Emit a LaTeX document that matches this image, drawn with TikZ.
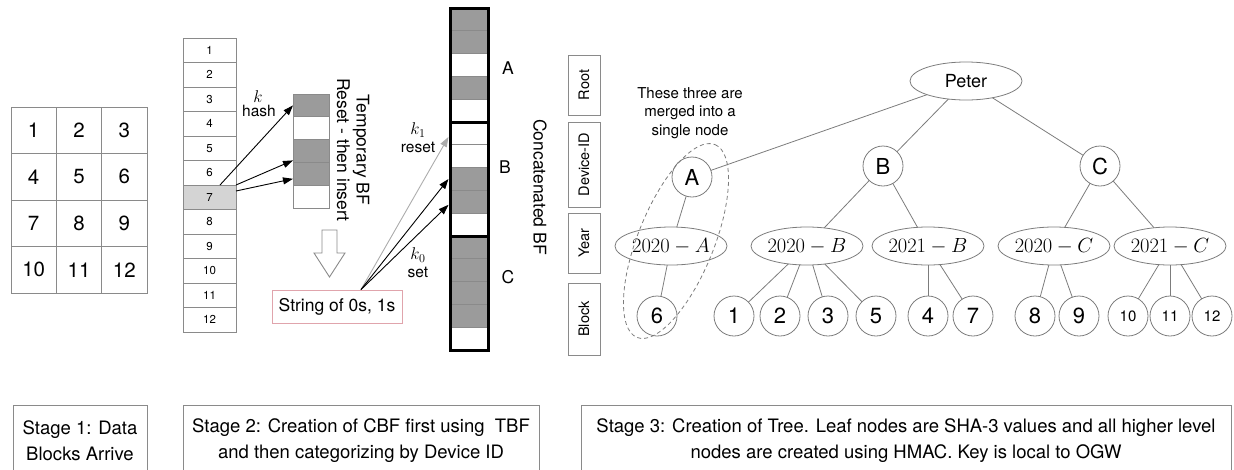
\documentclass[tikz,border=0pt]{standalone}
\usepackage{fix-cm}
\usepackage[no-math]{fontspec}
\setmainfont{TeX Gyre Heros}
\usetikzlibrary{shapes.geometric,arrows.meta,calc}
\definecolor{bordgray}{HTML}{8A8A8A}
\definecolor{cellgray}{HTML}{9B9B9B}
\definecolor{hlgray}{HTML}{D4D4D4}
\definecolor{pinkb}{HTML}{E0A4AC}
\definecolor{edgec}{HTML}{7C7C7C}
\newcommand\fsz[2]{\fontsize{#1}{#2}\selectfont}
\tikzset{
  gridcell/.style={draw=bordgray, line width=0.9pt, minimum width=45.33pt, minimum height=46.5pt, inner sep=0, outer sep=0, font=\fsz{20.5}{22}},
  listcell/.style={draw=bordgray, line width=0.8pt, minimum width=53pt, minimum height=24.5pt, inner sep=0, outer sep=0, font=\fsz{11.5}{13}},
  tbfcell/.style={draw=bordgray, line width=0.8pt, minimum width=36pt, minimum height=22.8pt, inner sep=0, outer sep=0},
  cbfcell/.style={draw=bordgray, line width=0.8pt, minimum width=38pt, minimum height=22.8pt, inner sep=0, outer sep=0},
  arr/.style={-{Triangle[length=10pt,width=7pt]}, line width=0.9pt},
  small/.style={font=\fsz{15.5}{17}, inner sep=0},
  mathlab/.style={font=\fsz{17}{19}, inner sep=0},
  biglab/.style={font=\fsz{17.5}{19.5}, inner sep=0},
  sidebox/.style={draw=bordgray, line width=0.8pt, rotate=90, minimum height=32pt, inner sep=0, font=\fsz{14.5}{16}},
  tnode/.style={draw=edgec, line width=0.8pt, inner sep=0, outer sep=0},
  circ/.style={tnode, circle, minimum size=40pt, font=\fsz{22}{24}},
  smallcirc/.style={tnode, circle, minimum size=40pt, font=\fsz{15}{17}},
  yearnode/.style={tnode, ellipse, minimum width=112pt, minimum height=38pt, font=\fsz{20.5}{22}},
  edge/.style={draw=edgec, line width=0.8pt},
  stagebox/.style={draw=bordgray, line width=0.8pt},
  stagetext/.style={font=\fsz{18.5}{26}, align=center, inner sep=0}
}
\begin{document}
\begin{tikzpicture}[x=1pt,y=-1pt]
\useasboundingbox (0,0) rectangle (1234,469);
% ---------- Stage 1 grid ----------
\foreach \r in {0,...,3} {
  \foreach \c in {0,1,2} {
    \pgfmathtruncatemacro\n{\r*3+\c+1}
    \node[gridcell] (g\n) at ({11+45.33*\c+22.67},{107+46.5*\r+23.25}) {\n};
  }
}
% ---------- Stage 2 list ----------
\foreach \i in {1,...,12} {
  \pgfmathsetmacro\fc{\i==7 ? "hlgray" : "white"}
  \node[listcell, fill=\fc] (l\i) at (209.5,{38+24.5*(\i-1)+12.25}) {\i};
}
% temporary BF
\foreach \i/\f in {1/cellgray,2/white,3/cellgray,4/cellgray,5/white}
  \node[tbfcell, fill=\f] (t\i) at (311,{94+22.8*(\i-1)+11.4}) {};
\node[biglab, rotate=-90, align=center] (tbflab) at (353,150) {Temporary BF\\Reset - then insert};
\node[mathlab] (klab) at (258,97) {$k$};
\node[small] (hashlab) at (259,111) {hash};
\draw[arr] ([xshift=-16pt]l7.north east) -- (t1.west);
\draw[arr] (l7.north east) -- ($(t3.south west)+(0,-2)$);
\draw[arr] ([yshift=-6pt]l7.north east) -- ($(t4.west)+(0,5)$);
% hollow down arrow
\draw[draw=bordgray, line width=0.9pt, fill=white] (322,230) -- (337,230) -- (337,253) -- (345,253) -- (329.5,277) -- (314,253) -- (322,253) -- cycle;
% string box
\node[draw=pinkb, line width=0.9pt, minimum width=130pt, minimum height=33pt, inner sep=0, font=\fsz{17.5}{19}] (str) at (337,306.5) {String of 0s, 1s};
% concatenated BF
\foreach \i/\f in {1/cellgray,2/cellgray,3/white,4/cellgray,5/white,6/white,7/white,8/cellgray,9/cellgray,10/white,11/cellgray,12/cellgray,13/cellgray,14/cellgray,15/white}
  \node[cbfcell, fill=\f] (c\i) at (469,{8+22.8*(\i-1)+11.4}) {};
\draw[line width=3pt] (c1.north west) rectangle (c5.south east);
\draw[line width=3pt] (c6.north west) rectangle (c10.south east);
\draw[line width=3pt] (c11.north west) rectangle (c15.south east);
\node[biglab] (secA) at (508,68) {A};
\node[biglab] (secB) at (505,167) {B};
\node[biglab] (secC) at (508,277) {C};
\node[biglab, rotate=-90] (cbflab) at (540,187) {Concatenated BF};
\coordinate (src) at ([xshift=24pt]str.north);
\draw[arr, draw=gray!65, -{Triangle[length=10pt,width=7pt,fill=gray!65]}] (src) -- ($(c6.west)+(-1.5,3.5)$);
\draw[arr] (src) -- ($(c8.west)+(-1.5,0)$);
\draw[arr] (src) -- ($(c9.west)+(-1.5,3)$);
\node[mathlab] (k1lab) at (418,130) {$k_1$};
\node[small] (resetlab) at (418,147) {reset};
\node[mathlab] (k0lab) at (418,255) {$k_0$};
\node[small] (setlab) at (418,272) {set};
% ---------- Stage 3 side labels ----------
\node[sidebox, minimum width=60pt] (sroot) at (584,85) {Root};
\node[sidebox, minimum width=85pt] (sdev) at (584,164.5) {Device-ID};
\node[sidebox, minimum width=60pt] (syear) at (584,243) {Year};
\node[sidebox, minimum width=72pt] (sblock) at (584,319) {Block};
% tree
\node[tnode, ellipse, minimum width=112pt, minimum height=38pt, font=\fsz{18}{20}] (peter) at (966,81) {Peter};
\node[circ] (nA) at (692,177) {A};
\node[circ] (nB) at (883,166) {B};
\node[circ] (nC) at (1100,166) {C};
\node[yearnode] (yA) at (671,246) {$2020-A$};
\node[yearnode] (yB0) at (807,246) {$2020-B$};
\node[yearnode] (yB1) at (928,246) {$2021-B$};
\node[yearnode] (yC0) at (1054,246) {$2020-C$};
\node[yearnode] (yC1) at (1170,246) {$2021-C$};
\foreach \n/\x in {6/657,1/734,2/780,3/828,5/876,4/928,7/973,8/1035,9/1079}
  \node[circ] (b\n) at (\x,316) {\n};
\foreach \n/\x in {10/1128,11/1170,12/1212}
  \node[smallcirc] (b\n) at (\x,316) {\n};
\draw[edge] (peter) -- (nA);
\draw[edge] (peter) -- (nB);
\draw[edge] (peter) -- (nC);
\draw[edge] (nA) -- (yA);
\draw[edge] (yA) -- (b6);
\draw[edge] (nB) -- (yB0);
\draw[edge] (nB) -- (yB1);
\draw[edge] (nC) -- (yC0);
\draw[edge] (nC) -- (yC1);
\foreach \n in {1,2,3,5} \draw[edge] (yB0) -- (b\n);
\foreach \n in {4,7} \draw[edge] (yB1) -- (b\n);
\foreach \n in {8,9} \draw[edge] (yC0) -- (b\n);
\foreach \n in {10,11,12} \draw[edge] (yC1) -- (b\n);
\draw[draw=edgec, line width=0.8pt, dash pattern=on 4pt off 3pt, rotate around={68:(676,241)}] (676,241) ellipse [x radius=104, y radius=38];
\node[font=\fsz{15}{18.5}, align=center, inner sep=0] (note) at (690,113) {These three are\\merged into a\\single node};
% ---------- Stage boxes ----------
\node[stagetext] (st1) at (80,441) {Stage 1: Data\\Blocks Arrive};
\node[stagetext] (st2) at (361,441) {Stage 2: Creation of CBF first using\ \ TBF\\and then categorizing by Device ID};
\node[stagetext] (st3) at (906,441) {Stage 3: Creation of Tree. Leaf nodes are SHA-3 values and all higher level\\nodes are created using HMAC. Key is local to OGW};
\draw[stagebox] (13,470) -- (13,405) -- (147,405) -- (147,470);
\draw[stagebox] (183,470) -- (183,405) -- (539,405) -- (539,470);
\draw[stagebox] (581,470) -- (581,405) -- (1231,405) -- (1231,470);
\end{tikzpicture}
\end{document}
